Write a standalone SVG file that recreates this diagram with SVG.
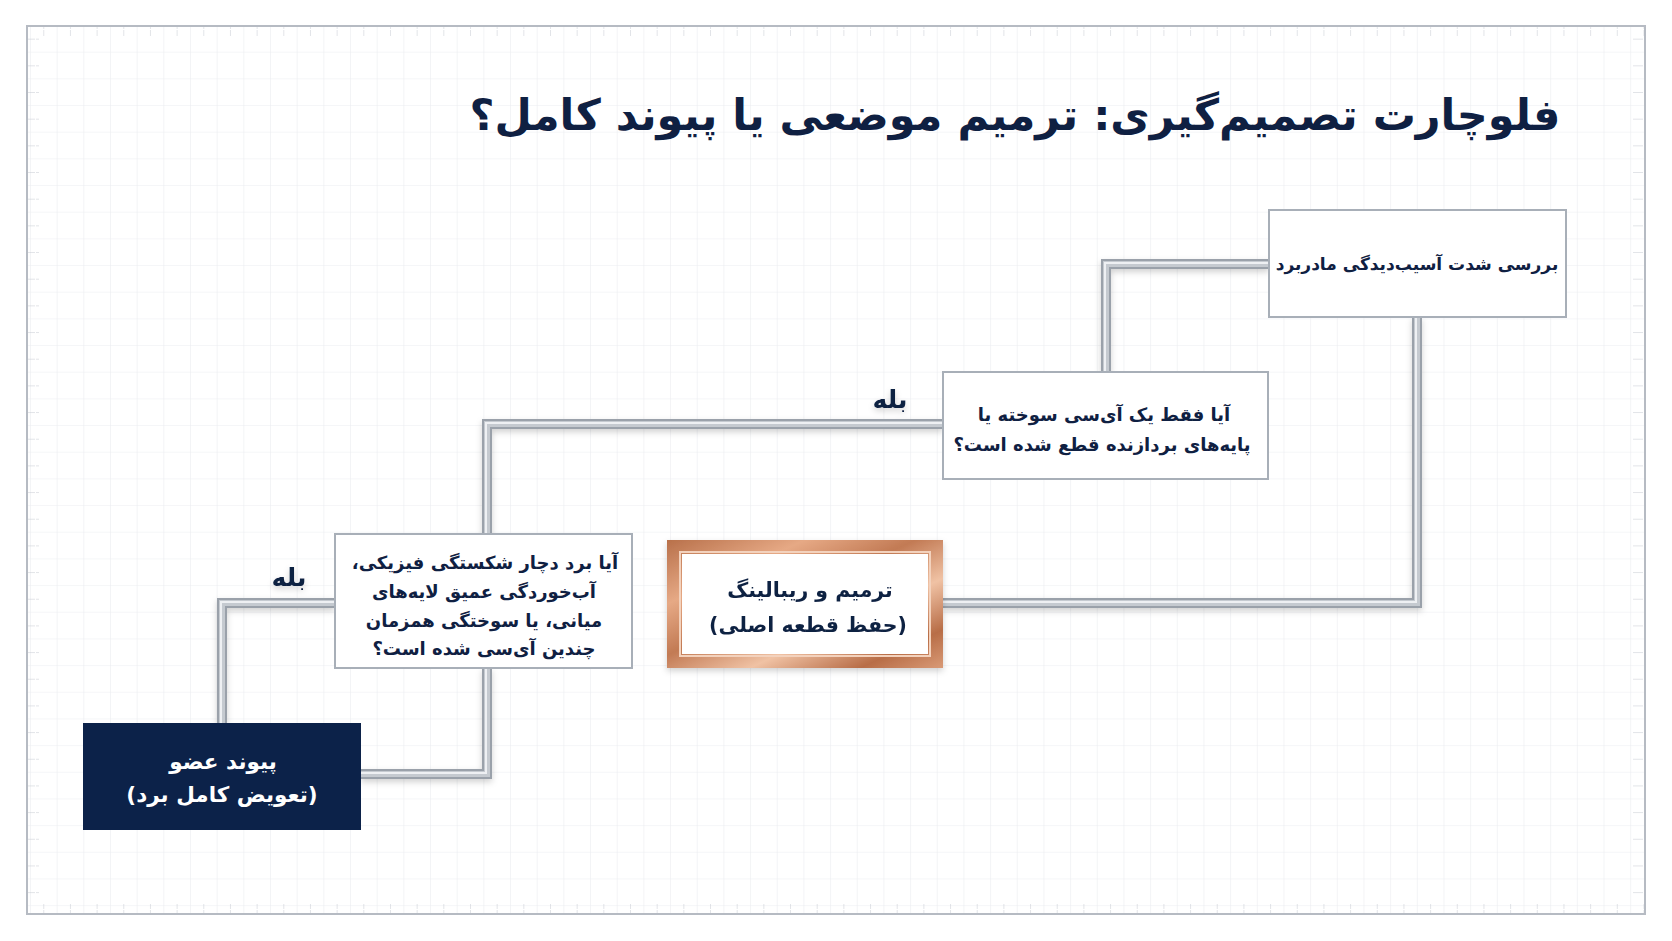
<svg xmlns="http://www.w3.org/2000/svg" width="1672" height="941" viewBox="0 0 1672 941">
<style>
.t{font-family:"DejaVu Sans",sans-serif;fill:#0f2042;text-anchor:middle;direction:rtl}
.title{font-size:43px;font-weight:bold}
.node{font-size:18px;font-weight:bold}
.cu{font-size:20.5px;font-weight:bold}
.dk{font-size:21.5px;font-weight:bold;fill:#ffffff}
.lbl{font-size:25px;font-weight:bold}
.box{fill:#ffffff;stroke:#a8afb8;stroke-width:2}
.c0{fill:none;stroke:#9aa1aa;stroke-width:10;stroke-linejoin:miter;stroke-linecap:butt}
.c1{fill:none;stroke:#c5cad0;stroke-width:6;stroke-linejoin:miter}
.c2{fill:none;stroke:#eef0f3;stroke-width:2;stroke-linejoin:miter}
</style>
<defs>
<pattern id="grid" x="3.3" y="25" width="26.67" height="26.67" patternUnits="userSpaceOnUse">
<path d="M0 0H26.67M0 0V26.67" fill="none" stroke="#ebedf1" stroke-width="1.2"/>
</pattern>
<pattern id="tickH" x="16.6" y="0" width="26.67" height="10" patternUnits="userSpaceOnUse">
<path d="M0 0V9" stroke="#c6cad1" stroke-width="1"/>
</pattern>
<pattern id="tickV" x="0" y="12" width="12" height="26.67" patternUnits="userSpaceOnUse">
<path d="M0 0H11" stroke="#c6cad1" stroke-width="1"/>
</pattern>
<linearGradient id="copper" x1="0" y1="0" x2="1" y2="1">
<stop offset="0" stop-color="#b8704a"/>
<stop offset="0.25" stop-color="#e6a985"/>
<stop offset="0.45" stop-color="#c27a54"/>
<stop offset="0.65" stop-color="#f0c2a4"/>
<stop offset="0.85" stop-color="#b86d47"/>
<stop offset="1" stop-color="#d99a76"/>
</linearGradient>
<filter id="sh" x="-10%" y="-10%" width="120%" height="130%">
<feDropShadow dx="0" dy="3" stdDeviation="3" flood-color="#000" flood-opacity="0.18"/>
</filter>
</defs>
<rect width="1672" height="941" fill="#ffffff"/>
<rect x="27" y="26" width="1618" height="888" fill="url(#grid)"/>
<rect x="27" y="27" width="1618" height="9" fill="url(#tickH)"/>
<rect x="27" y="904" width="1618" height="9" fill="url(#tickH)"/>
<rect x="28" y="26" width="11" height="888" fill="url(#tickV)"/>
<rect x="1633" y="26" width="11" height="888" fill="url(#tickV)"/>
<rect x="27" y="26" width="1618" height="888" fill="none" stroke="#b6bbc3" stroke-width="2"/>
<text class="t title" x="1015" y="130">فلوچارت تصمیم&#x200C;گیری: ترمیم موضعی یا پیوند کامل؟</text>
<g id="connectors" filter="url(#sh)">
<g>
<path class="c0" d="M1269 264H1106V372"/><path class="c1" d="M1269 264H1106V372"/><path class="c2" d="M1269 263H1105V372"/>
</g>
<g>
<path class="c0" d="M1417 317V603H943"/><path class="c1" d="M1417 317V603H943"/><path class="c2" d="M1416 317V602H943"/>
</g>
<g>
<path class="c0" d="M943 424H487V534"/><path class="c1" d="M943 424H487V534"/><path class="c2" d="M943 423H486V534"/>
</g>
<g>
<path class="c0" d="M335 603H222V723"/><path class="c1" d="M335 603H222V723"/><path class="c2" d="M335 602H221V723"/>
</g>
<g>
<path class="c0" d="M487 668V774H361"/><path class="c1" d="M487 668V774H361"/><path class="c2" d="M486 668V773H361"/>
</g>
<text class="t lbl" x="890" y="408">بله</text>
<text class="t lbl" x="289" y="586">بله</text>
</g>
<g id="n1">
<rect class="box" x="1269" y="210" width="297" height="107"/>
<text class="t node" x="1417" y="270" style="font-size:17px">بررسی شدت آسیب&#x200C;دیدگی مادربرد</text>
</g>
<g id="n2">
<rect class="box" x="943" y="372" width="325" height="107"/>
<text class="t node" x="1104" y="421">آیا فقط یک آی&#x200C;سی سوخته یا</text>
<text class="t node" x="1102" y="451">پایه&#x200C;های بردازنده قطع شده است؟</text>
</g>
<g id="n3">
<rect class="box" x="335" y="534" width="297" height="134"/>
<text class="t node" x="485" y="569">آیا برد دچار شکستگی فیزیکی،</text>
<text class="t node" x="484" y="598">آب&#x200C;خوردگی عمیق لایه&#x200C;های</text>
<text class="t node" x="484" y="627">میانی، یا سوختگی همزمان</text>
<text class="t node" x="484" y="655">چندین آی&#x200C;سی شده است؟</text>
</g>
<g id="n4" filter="url(#sh)">
<rect x="667" y="540" width="276" height="128" fill="url(#copper)"/>
<rect x="680" y="552" width="250" height="104" fill="none" stroke="#f3d2bd" stroke-width="2"/>
<rect x="682" y="554" width="246" height="100" fill="#ffffff"/>
<text class="t cu" x="810" y="597">ترمیم و ریبالینگ</text>
<text class="t cu" x="808" y="632">(حفظ قطعه اصلی)</text>
</g>
<g id="n5">
<rect x="83" y="723" width="278" height="107" fill="#0c2249"/>
<text class="t dk" x="223" y="769">پیوند عضو</text>
<text class="t dk" x="222" y="802">(تعویض کامل برد)</text>
</g>
</svg>
